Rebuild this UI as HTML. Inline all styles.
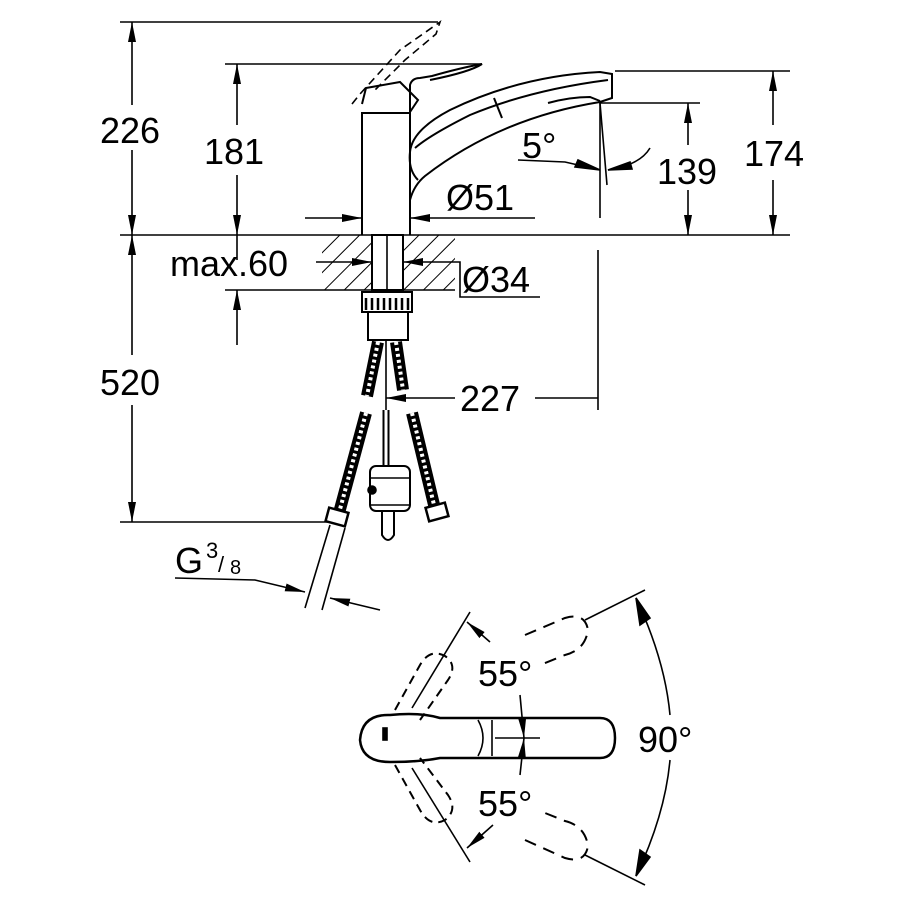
<!DOCTYPE html>
<html><head><style>html,body{margin:0;padding:0;background:#fff}svg{display:block}text{font-family:"Liberation Sans",sans-serif;fill:#000}</style></head>
<body>
<svg width="908" height="908" viewBox="0 0 908 908" xmlns="http://www.w3.org/2000/svg">
<defs>
<marker id="a" viewBox="0 0 20 10" refX="20" refY="5" markerWidth="20" markerHeight="10" markerUnits="userSpaceOnUse" orient="auto"><path d="M0,1 L20,5 L0,9z" fill="#000"/></marker>
<pattern id="h" width="14" height="14" patternUnits="userSpaceOnUse" patternTransform="rotate(45)"><line x1="0" y1="0" x2="0" y2="14" stroke="#000" stroke-width="2"/></pattern>
</defs>
<g stroke="#000" stroke-width="1.6" fill="none">
<line x1="120" y1="22" x2="438" y2="22"/>
<line x1="225" y1="64" x2="482" y2="64"/>
<line x1="615" y1="71" x2="790" y2="71"/>
<line x1="600" y1="103" x2="700" y2="103"/>
<line x1="120" y1="235" x2="790" y2="235"/>
<line x1="120" y1="522" x2="345" y2="522"/>
<line x1="225" y1="290" x2="322" y2="290"/>
<line x1="132" y1="105" x2="132" y2="22" marker-end="url(#a)"/>
<line x1="132" y1="150" x2="132" y2="235" marker-end="url(#a)"/>
<line x1="237" y1="125" x2="237" y2="64" marker-end="url(#a)"/>
<line x1="237" y1="175" x2="237" y2="235" marker-end="url(#a)"/>
<line x1="773" y1="125" x2="773" y2="71" marker-end="url(#a)"/>
<line x1="773" y1="180" x2="773" y2="235" marker-end="url(#a)"/>
<line x1="688" y1="145" x2="688" y2="103" marker-end="url(#a)"/>
<line x1="688" y1="190" x2="688" y2="235" marker-end="url(#a)"/>
<line x1="132" y1="355" x2="132" y2="235" marker-end="url(#a)"/>
<line x1="132" y1="405" x2="132" y2="522" marker-end="url(#a)"/>
<line x1="237" y1="235" x2="237" y2="260" />
<line x1="237" y1="345" x2="237" y2="290" marker-end="url(#a)"/>
<line x1="316" y1="262" x2="372" y2="262" marker-end="url(#a)"/>
<line x1="455" y1="262" x2="403" y2="262" marker-end="url(#a)"/>
<polyline points="455,262 460,262 460,297 540,297"/>
<line x1="305" y1="218" x2="362" y2="218" marker-end="url(#a)"/>
<line x1="535" y1="218" x2="410" y2="218" marker-end="url(#a)"/>
<line x1="600" y1="103" x2="600" y2="218"/>
<line x1="600" y1="103" x2="607" y2="185"/>
<polyline points="518,160 565,162 600,170" />
<path d="M600,170 L578,160 L575,167z" fill="#000"/>
<path d="M650,148 Q640,165 608,170" />
<path d="M608,170 L630,162 L632,169z" fill="#000"/>
<line x1="598" y1="250" x2="598" y2="410"/>
<line x1="455" y1="398" x2="386" y2="398" marker-end="url(#a)"/>
<line x1="535" y1="398" x2="598" y2="398"/>
<!-- faucet body -->
<g stroke-width="2">
<path d="M362,235 V113 H410 V235"/>
<path d="M410,112 V85 Q412,78 420,78 L432,76 Q460,68 482,64 Q470,72 430,80"/>
<path d="M362,104 L366,88 L400,82 L418,100 L410,112"/>
<path d="M410,232 V200 Q414,185 425,176 Q500,118 600,102 L612,98 V74 L600,72 Q520,76 450,110 Q412,130 410,152 Q408,170 418,180"/>
<path d="M415,148 Q430,135 470,115 Q530,90 608,80"/>
<path d="M494,98 L502,118"/>
<path d="M548,103 Q570,97 590,97 L600,101"/>
</g>
<path d="M352,104 L360,94 L400,50 L440,22 L436,34 L405,60 L375,90" stroke-dasharray="8,5"/>
<rect x="322" y="235" width="50" height="55" fill="url(#h)" stroke="none"/>
<rect x="403" y="235" width="52" height="55" fill="url(#h)" stroke="none"/>
<line x1="322" y1="290" x2="455" y2="290"/>
<rect x="372" y="235" width="31" height="55" fill="#fff" stroke-width="2"/>
<line x1="387" y1="235" x2="387" y2="300"/>
<rect x="362" y="292" width="50" height="20" fill="#fff" stroke-width="2"/>
<path d="M366,298 V310 M372,298 V310 M378,298 V310 M384,298 V310 M390,298 V310 M396,298 V310 M402,298 V310 M408,298 V310" stroke-width="2.5"/>
<rect x="368" y="312" width="40" height="28" fill="#fff" stroke-width="2"/>
<!-- hoses -->
<g stroke-linecap="butt">
<line x1="378" y1="342" x2="367" y2="396" stroke-width="12"/>
<line x1="378" y1="342" x2="367" y2="396" stroke-width="4" stroke="#fff" stroke-dasharray="3,3"/>
<line x1="396" y1="342" x2="403" y2="390" stroke-width="12"/>
<line x1="396" y1="342" x2="403" y2="390" stroke-width="4" stroke="#fff" stroke-dasharray="3,3"/>
<line x1="366" y1="413" x2="339" y2="513" stroke-width="12"/>
<line x1="366" y1="413" x2="339" y2="513" stroke-width="4" stroke="#fff" stroke-dasharray="3,3"/>
<line x1="412" y1="413" x2="435" y2="509" stroke-width="12"/>
<line x1="412" y1="413" x2="435" y2="509" stroke-width="4" stroke="#fff" stroke-dasharray="3,3"/>
</g>
<line x1="386" y1="340" x2="386" y2="410"/>
<line x1="386" y1="410" x2="386" y2="490" stroke-width="7"/>
<line x1="386" y1="410" x2="386" y2="490" stroke="#fff" stroke-width="3"/>
<rect x="370" y="466" width="40" height="45" rx="6" fill="#fff" stroke-width="2"/>
<line x1="370" y1="478" x2="410" y2="478"/>
<line x1="370" y1="505" x2="410" y2="505"/>
<circle cx="372" cy="490" r="4" fill="#000"/>
<path d="M382,511 V535 Q388,545 394,535 V511" stroke-width="2"/>
<rect x="327" y="510" width="20" height="14" fill="#fff" stroke-width="2.5" transform="rotate(15 337 517)"/>
<rect x="427" y="505" width="20" height="14" fill="#fff" stroke-width="2.5" transform="rotate(-15 437 512)"/>
<line x1="345" y1="528" x2="322" y2="610"/>
<line x1="330" y1="525" x2="305" y2="608"/>
<polyline points="175,578 255,580 305,592" marker-end="url(#a)"/>
<line x1="380" y1="610" x2="330" y2="598" marker-end="url(#a)"/>
<!-- bottom view -->
<path d="M390,715 Q420,712 440,718 L600,718 Q615,718 615,738 Q615,758 600,758 L440,758 Q420,762 390,762 Q362,762 360,740 Q362,714 390,715z" stroke-width="2.5"/>
<path d="M478,720 Q488,738 478,756" />
<line x1="492" y1="720" x2="492" y2="756"/>
<line x1="495" y1="738" x2="540" y2="738"/>
<rect x="383" y="728" width="4" height="12" fill="#000"/>
<path d="M395,710 L420,665 Q430,648 445,656 Q458,665 448,680 L420,720" stroke-dasharray="9,6" stroke-width="2"/>
<path d="M395,765 L420,810 Q430,828 445,820 Q458,810 448,795 L420,758" stroke-dasharray="9,6" stroke-width="2"/>
<path d="M525,635 L565,618 Q585,612 588,630 Q585,650 565,655 L540,665" stroke-dasharray="12,8" stroke-width="2"/>
<path d="M525,840 L565,858 Q585,864 588,846 Q585,826 565,821 L540,811" stroke-dasharray="12,8" stroke-width="2"/>
<line x1="412" y1="708" x2="470" y2="612"/>
<line x1="412" y1="768" x2="470" y2="862"/>
<line x1="490" y1="642" x2="467" y2="622" marker-end="url(#a)"/>
<line x1="493" y1="825" x2="467" y2="848" marker-end="url(#a)"/>
<line x1="520" y1="695" x2="524" y2="738" marker-end="url(#a)"/>
<line x1="520" y1="775" x2="524" y2="738" marker-end="url(#a)"/>
<line x1="585" y1="620" x2="645" y2="590"/>
<line x1="585" y1="855" x2="645" y2="885"/>
<path d="M636,598 Q665,660 670,715" />
<path d="M670,760 Q665,815 636,876" />
<path d="M636,598 L640,625 L650,618z" fill="#000"/>
<path d="M636,876 L640,850 L650,857z" fill="#000"/>
</g>
<g font-size="36">
<text x="100" y="143">226</text>
<text x="204" y="164">181</text>
<text x="744" y="166">174</text>
<text x="657" y="184">139</text>
<text x="522" y="158">5°</text>
<text x="446" y="210">Ø51</text>
<text x="170" y="276">max.60</text>
<text x="462" y="292">Ø34</text>
<text x="100" y="395">520</text>
<text x="460" y="411">227</text>
<text x="175" y="573">G</text>
<text x="206" y="558" font-size="22">3</text>
<text x="218" y="572" font-size="22">/</text>
<text x="230" y="574" font-size="20">8</text>
<text x="478" y="686">55°</text>
<text x="478" y="816">55°</text>
<text x="638" y="752">90°</text>
</g>
</svg>
</body></html>
